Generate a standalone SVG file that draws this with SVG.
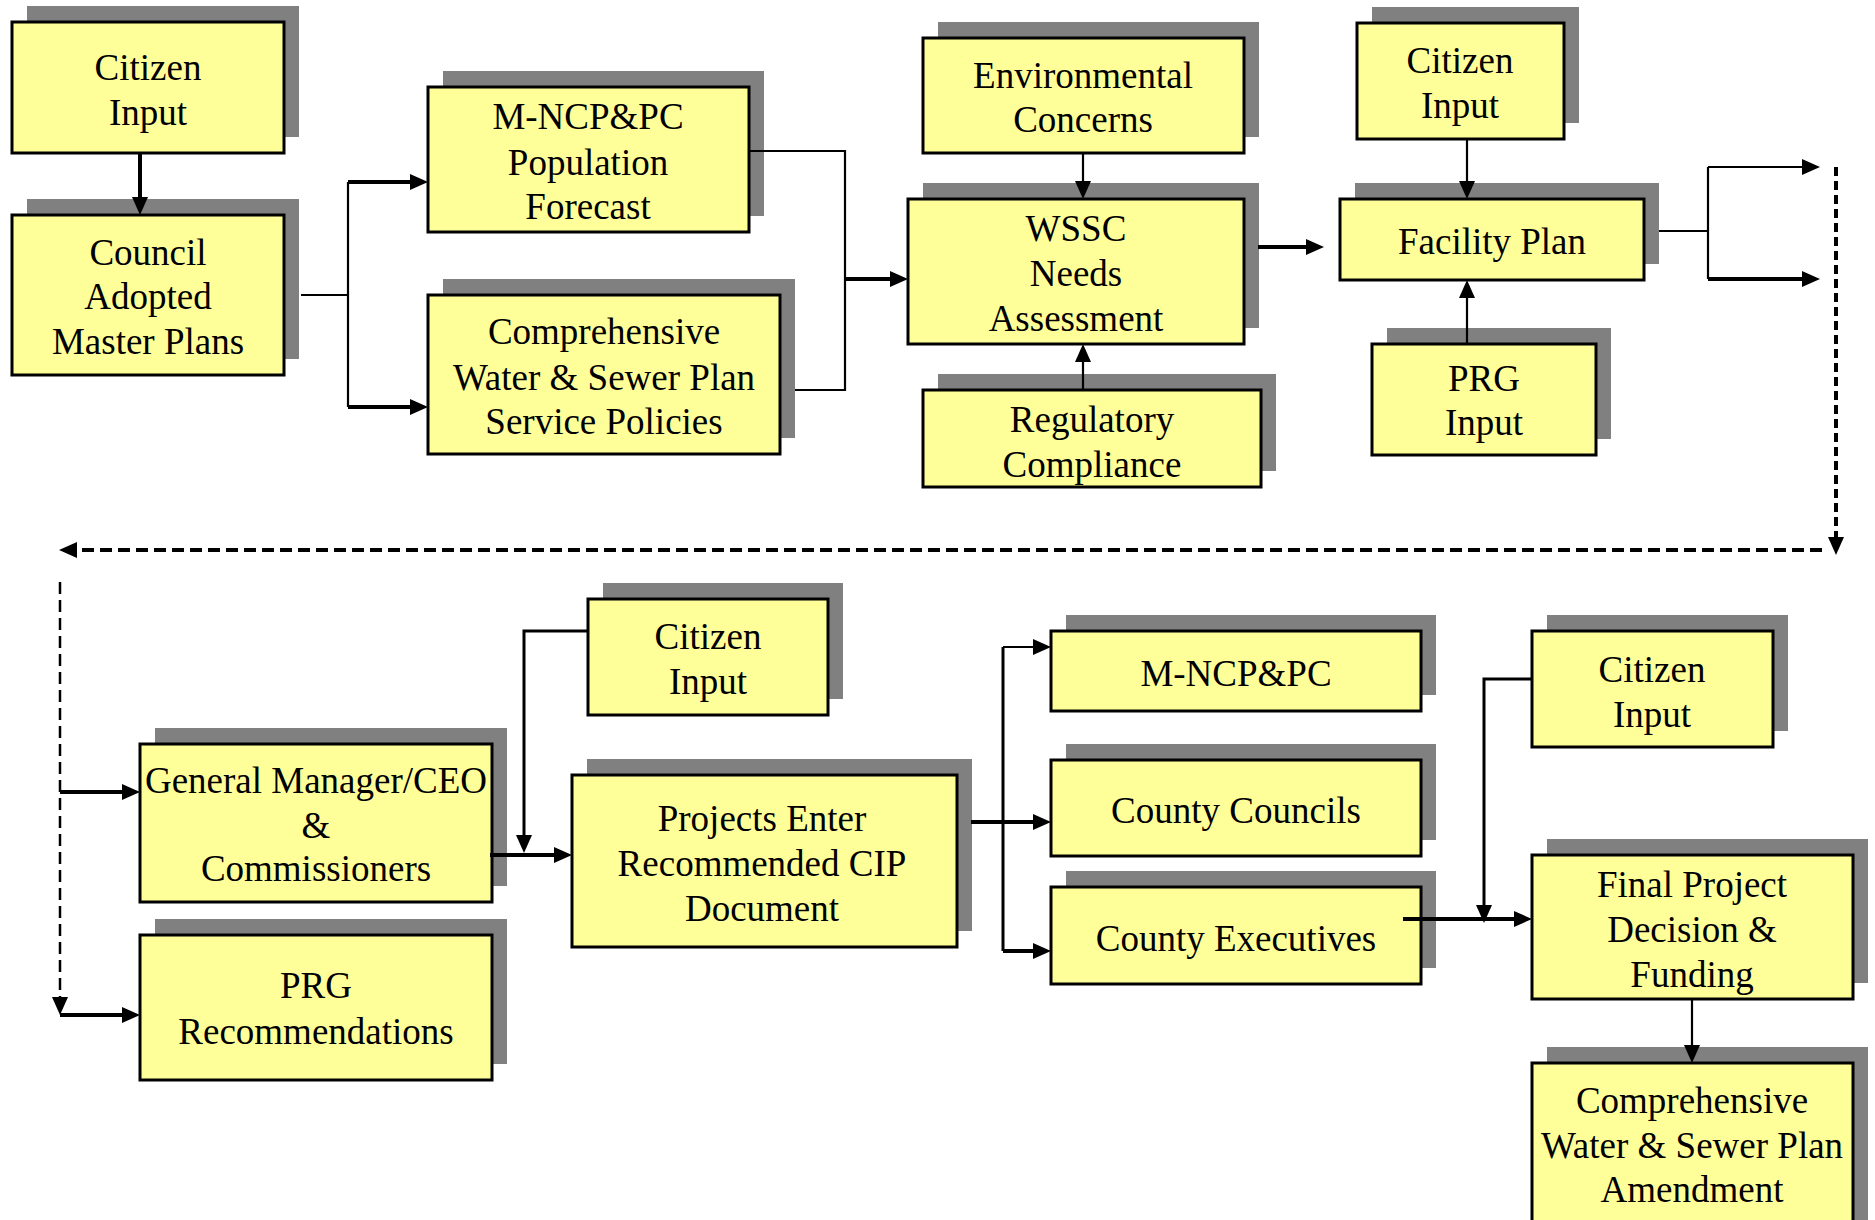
<svg xmlns="http://www.w3.org/2000/svg" width="1875" height="1220" viewBox="0 0 1875 1220">
<style>
.sh{fill:#808080}
.bx{fill:#FFFF99;stroke:#000;stroke-width:3}
.t{font-family:"Liberation Serif","Times New Roman",serif;font-size:37px;fill:#000;text-anchor:middle}
.thin{fill:none;stroke:#000;stroke-width:2.2}
.mid{fill:none;stroke:#000;stroke-width:3}
.thick{fill:none;stroke:#000;stroke-width:4}
.d1{fill:none;stroke:#000;stroke-width:4;stroke-dasharray:9 5}
.d2{fill:none;stroke:#000;stroke-width:4;stroke-dasharray:12 6}
.d3{fill:none;stroke:#000;stroke-width:2.5;stroke-dasharray:12 6}
</style>
<defs>
<marker id="a" markerUnits="userSpaceOnUse" markerWidth="18" markerHeight="16" viewBox="0 0 18 16" refX="8" refY="8" orient="auto">
<path d="M0,0 L18,8 L0,16 z" fill="#000"/>
</marker>
</defs>
<rect width="1875" height="1220" fill="#fff"/>

<g id="citizen-input-1"><rect class="sh" x="27" y="6" width="272" height="131"/><rect class="bx" x="12" y="22" width="272" height="131"/><text class="t" x="148" y="80">Citizen</text><text class="t" x="148" y="125">Input</text></g>
<g id="council-adopted"><rect class="sh" x="27" y="199" width="272" height="160"/><rect class="bx" x="12" y="215" width="272" height="160"/><text class="t" x="148" y="265">Council</text><text class="t" x="148" y="309">Adopted</text><text class="t" x="148" y="354">Master Plans</text></g>
<g id="population-forecast"><rect class="sh" x="443" y="71" width="321" height="145"/><rect class="bx" x="428" y="87" width="321" height="145"/><text class="t" x="588" y="129">M-NCP&amp;PC</text><text class="t" x="588" y="175">Population</text><text class="t" x="588" y="219">Forecast</text></g>
<g id="service-policies"><rect class="sh" x="443" y="279" width="352" height="159"/><rect class="bx" x="428" y="295" width="352" height="159"/><text class="t" x="604" y="344">Comprehensive</text><text class="t" x="604" y="390">Water &amp; Sewer Plan</text><text class="t" x="604" y="434">Service Policies</text></g>
<g id="environmental"><rect class="sh" x="938" y="22" width="321" height="115"/><rect class="bx" x="923" y="38" width="321" height="115"/><text class="t" x="1083" y="88">Environmental</text><text class="t" x="1083" y="132">Concerns</text></g>
<g id="wssc-needs"><rect class="sh" x="923" y="183" width="336" height="145"/><rect class="bx" x="908" y="199" width="336" height="145"/><text class="t" x="1076" y="241">WSSC</text><text class="t" x="1076" y="286">Needs</text><text class="t" x="1076" y="331">Assessment</text></g>
<g id="regulatory"><rect class="sh" x="938" y="374" width="338" height="97"/><rect class="bx" x="923" y="390" width="338" height="97"/><text class="t" x="1092" y="432">Regulatory</text><text class="t" x="1092" y="477">Compliance</text></g>
<g id="citizen-input-2"><rect class="sh" x="1372" y="7" width="207" height="116"/><rect class="bx" x="1357" y="23" width="207" height="116"/><text class="t" x="1460" y="73">Citizen</text><text class="t" x="1460" y="118">Input</text></g>
<g id="facility-plan"><rect class="sh" x="1355" y="183" width="304" height="81"/><rect class="bx" x="1340" y="199" width="304" height="81"/><text class="t" x="1492" y="254">Facility Plan</text></g>
<g id="prg-input"><rect class="sh" x="1387" y="328" width="224" height="111"/><rect class="bx" x="1372" y="344" width="224" height="111"/><text class="t" x="1484" y="391">PRG</text><text class="t" x="1484" y="435">Input</text></g>
<g id="citizen-input-3"><rect class="sh" x="603" y="583" width="240" height="116"/><rect class="bx" x="588" y="599" width="240" height="116"/><text class="t" x="708" y="649">Citizen</text><text class="t" x="708" y="694">Input</text></g>
<g id="general-manager"><rect class="sh" x="155" y="728" width="352" height="158"/><rect class="bx" x="140" y="744" width="352" height="158"/><text class="t" x="316" y="793">General Manager/CEO</text><text class="t" x="316" y="838">&amp;</text><text class="t" x="316" y="881">Commissioners</text></g>
<g id="prg-recommendations"><rect class="sh" x="155" y="919" width="352" height="145"/><rect class="bx" x="140" y="935" width="352" height="145"/><text class="t" x="316" y="998">PRG</text><text class="t" x="316" y="1044">Recommendations</text></g>
<g id="projects-enter"><rect class="sh" x="587" y="759" width="385" height="172"/><rect class="bx" x="572" y="775" width="385" height="172"/><text class="t" x="762" y="831">Projects Enter</text><text class="t" x="762" y="876">Recommended CIP</text><text class="t" x="762" y="921">Document</text></g>
<g id="mncppc"><rect class="sh" x="1066" y="615" width="370" height="80"/><rect class="bx" x="1051" y="631" width="370" height="80"/><text class="t" x="1236" y="686">M-NCP&amp;PC</text></g>
<g id="county-councils"><rect class="sh" x="1066" y="744" width="370" height="96"/><rect class="bx" x="1051" y="760" width="370" height="96"/><text class="t" x="1236" y="823">County Councils</text></g>
<g id="county-executives"><rect class="sh" x="1066" y="871" width="370" height="97"/><rect class="bx" x="1051" y="887" width="370" height="97"/><text class="t" x="1236" y="951">County Executives</text></g>
<g id="citizen-input-4"><rect class="sh" x="1547" y="615" width="241" height="116"/><rect class="bx" x="1532" y="631" width="241" height="116"/><text class="t" x="1652" y="682">Citizen</text><text class="t" x="1652" y="727">Input</text></g>
<g id="final-decision"><rect class="sh" x="1547" y="839" width="321" height="144"/><rect class="bx" x="1532" y="855" width="321" height="144"/><text class="t" x="1692" y="897">Final Project</text><text class="t" x="1692" y="942">Decision &amp;</text><text class="t" x="1692" y="987">Funding</text></g>
<g id="plan-amendment"><rect class="sh" x="1547" y="1047" width="321" height="200"/><rect class="bx" x="1532" y="1063" width="321" height="200"/><text class="t" x="1692" y="1113">Comprehensive</text><text class="t" x="1692" y="1158">Water &amp; Sewer Plan</text><text class="t" x="1692" y="1202">Amendment</text></g>

<g id="connectors">
<path class="thick" d="M140,153 V205" marker-end="url(#a)"/>
<path class="thin" d="M301,295 H348 M348,182 V407"/>
<path class="thick" d="M348,182 H418" marker-end="url(#a)"/>
<path class="thick" d="M348,407 H418" marker-end="url(#a)"/>
<path class="thin" d="M749,151 H845 V390 H795"/>
<path class="thick" d="M845,279 H898" marker-end="url(#a)"/>
<path class="thin" d="M1083,154 V189" marker-end="url(#a)"/>
<path class="thin" d="M1083,390 V354" marker-end="url(#a)"/>
<path class="thick" d="M1258,247 H1314" marker-end="url(#a)"/>
<path class="thin" d="M1467,139 V189" marker-end="url(#a)"/>
<path class="thin" d="M1467,344 V290" marker-end="url(#a)"/>
<path class="thin" d="M1659,231 H1708 M1708,167 V279"/>
<path class="thin" d="M1708,167 H1810" marker-end="url(#a)"/>
<path class="thick" d="M1708,279 H1810" marker-end="url(#a)"/>
<path class="d1" d="M1836,167 V545" marker-end="url(#a)"/>
<path class="d2" d="M1822,550 H69" marker-end="url(#a)"/>
<path class="d3" d="M60,582 V1005" marker-end="url(#a)"/>
<path class="thick" d="M60,792 H130" marker-end="url(#a)"/>
<path class="thick" d="M60,1015 H130" marker-end="url(#a)"/>
<path class="mid" d="M588,631 H524 V843" marker-end="url(#a)"/>
<path class="thick" d="M490,855 H562" marker-end="url(#a)"/>
<path class="thick" d="M971,822 H1003"/>
<path class="mid" d="M1003,647 V951"/>
<path class="thin" d="M1003,647 H1041" marker-end="url(#a)"/>
<path class="thick" d="M1003,822 H1041" marker-end="url(#a)"/>
<path class="thick" d="M1003,951 H1041" marker-end="url(#a)"/>
<path class="thick" d="M1403,919 H1522" marker-end="url(#a)"/>
<path class="mid" d="M1532,679 H1484 V913" marker-end="url(#a)"/>
<path class="thin" d="M1692,999 V1053" marker-end="url(#a)"/>
</g>
</svg>
